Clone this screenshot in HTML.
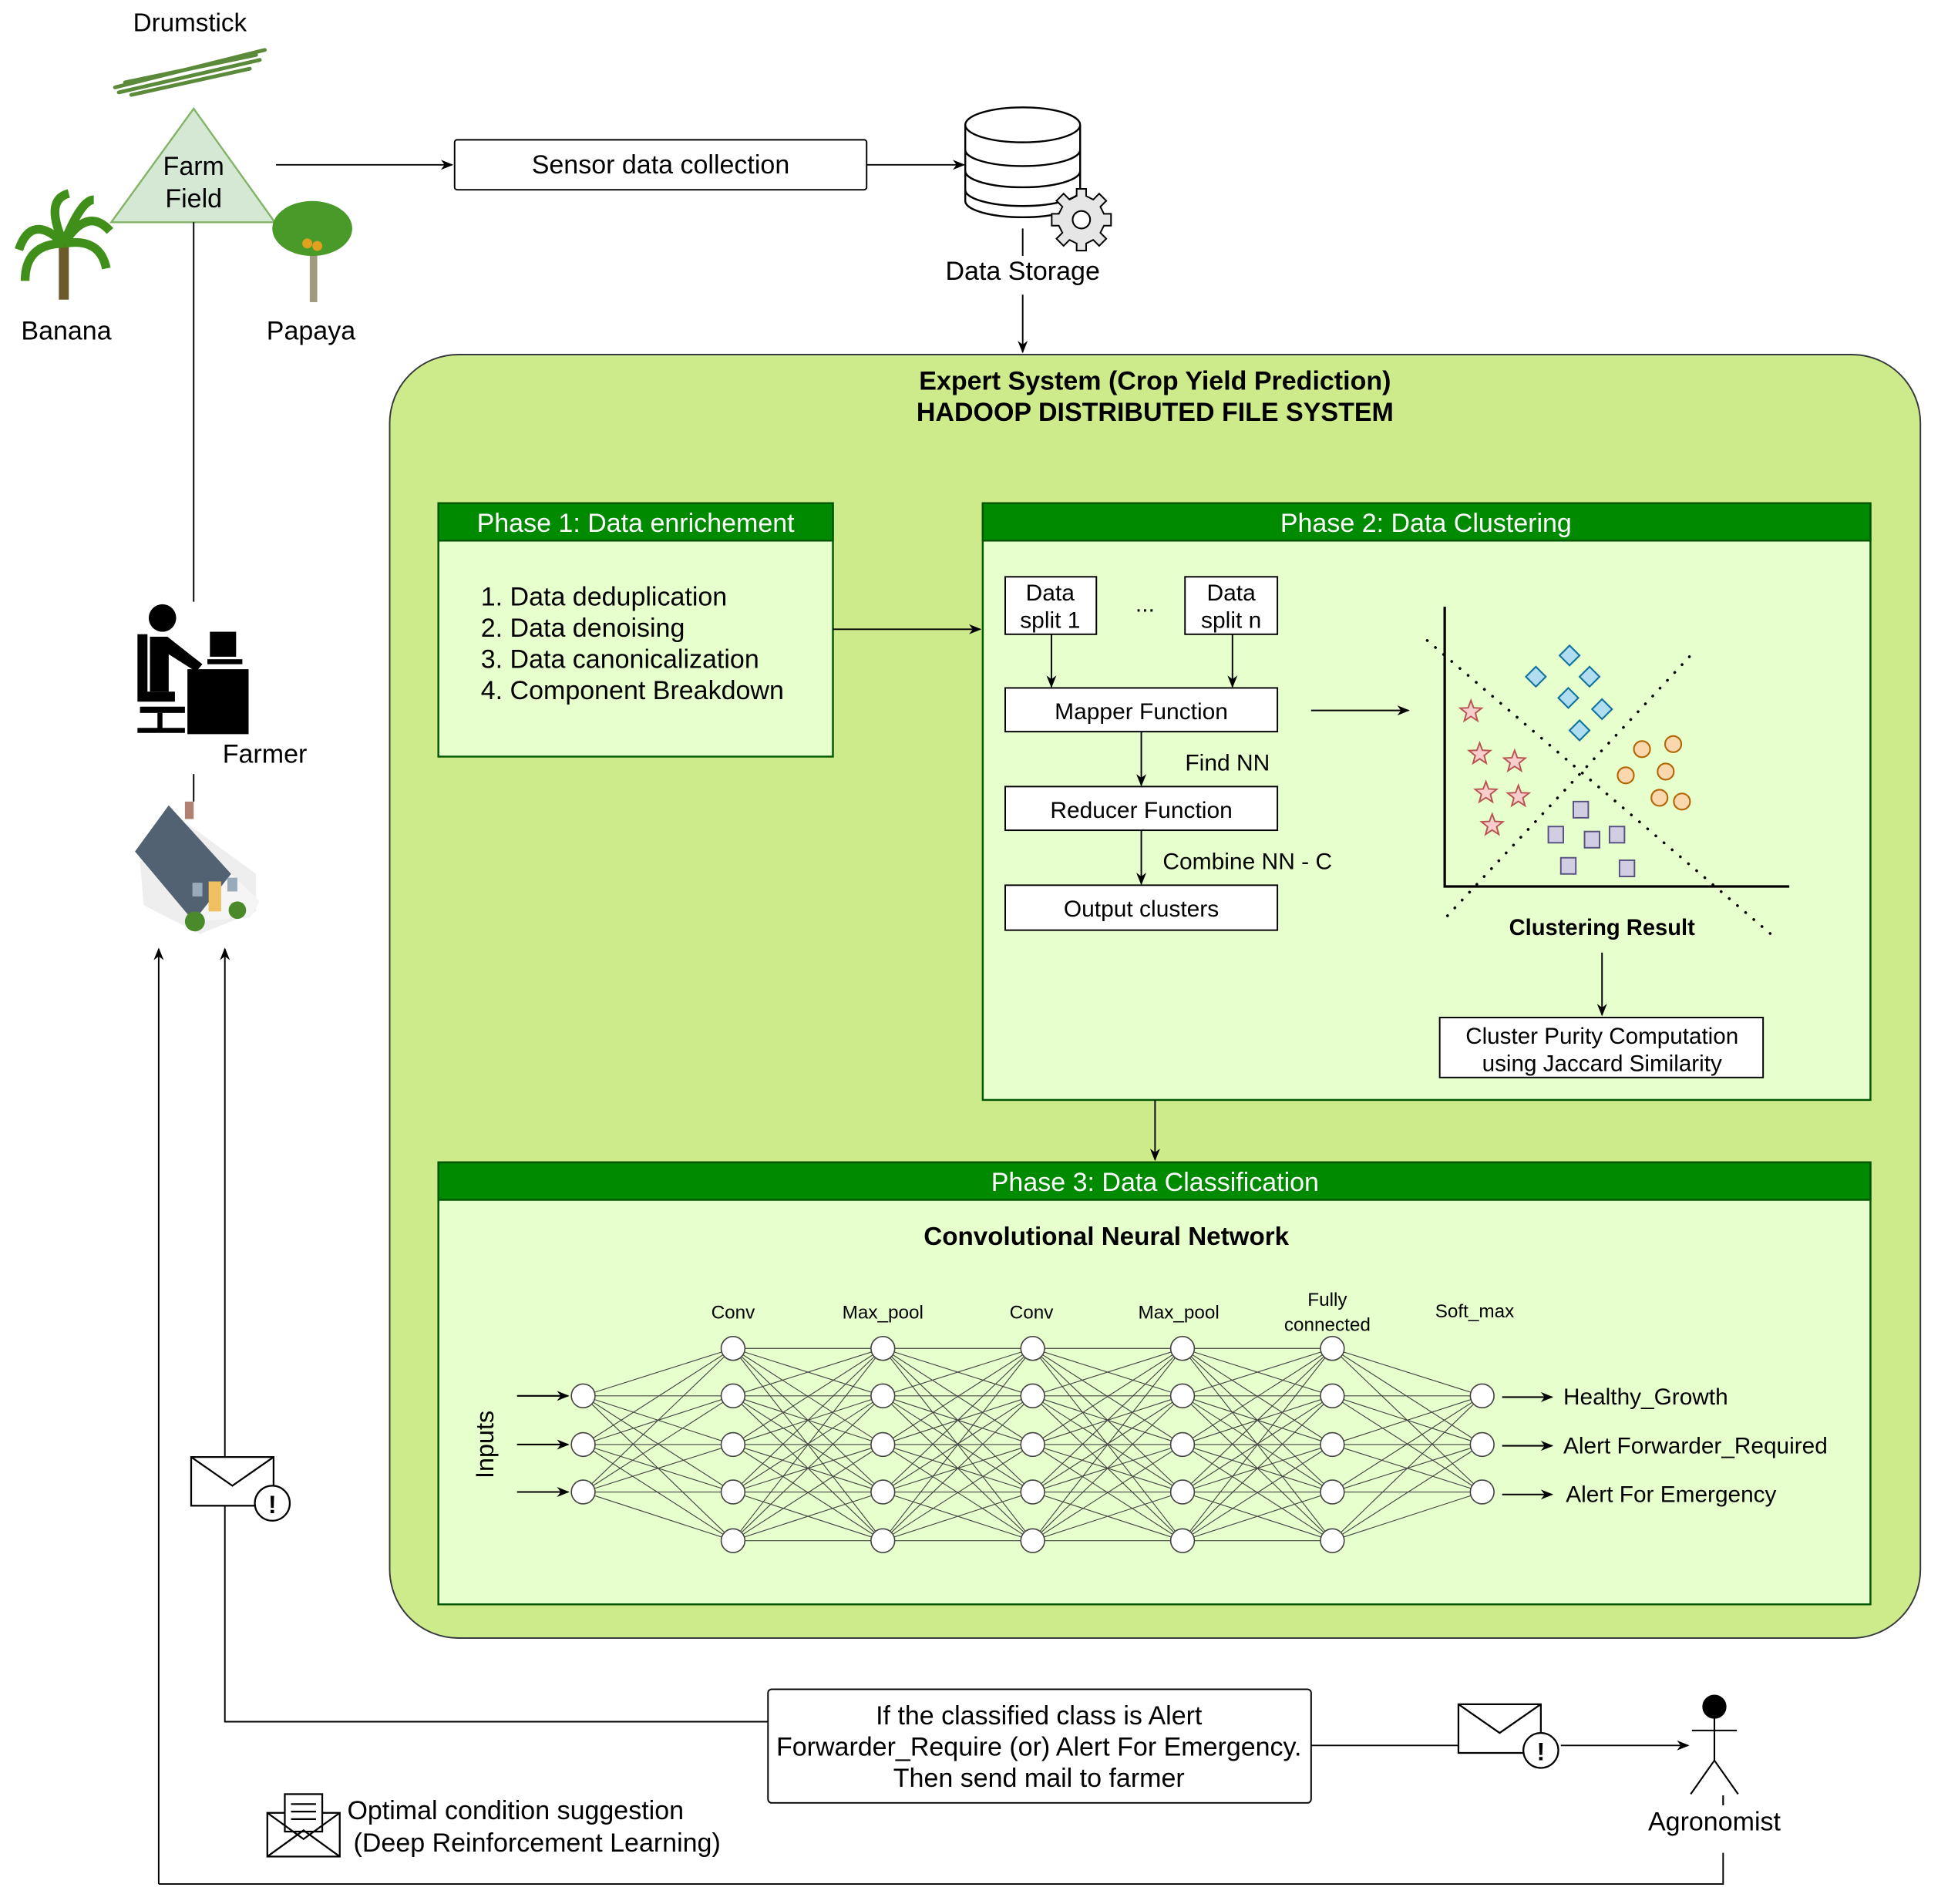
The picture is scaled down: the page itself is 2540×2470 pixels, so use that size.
<!DOCTYPE html>
<html><head><meta charset="utf-8"><style>
html,body{margin:0;padding:0;background:#fff}
svg{display:block}
text{font-family:"Liberation Sans",Arial,sans-serif;fill:#000}
</style></head><body>
<svg id="s" width="2540" height="2470" viewBox="0 0 1568 1525" xmlns="http://www.w3.org/2000/svg">
<defs>
<marker id="ar" markerWidth="10" markerHeight="10" refX="9" refY="5" orient="auto" markerUnits="userSpaceOnUse"><path d="M0,1 L10,5 L0,9 L3,5 Z" fill="#000"/></marker>
</defs>
<rect width="1568" height="1525" fill="#fff"/>

<text x="152" y="25" font-size="20.5" text-anchor="middle">Drumstick</text>
<g stroke="#5a8a3a" stroke-width="3" stroke-linecap="round">
<line x1="92" y1="70" x2="212" y2="40"/><line x1="95" y1="74" x2="208" y2="48"/><line x1="100" y1="66" x2="205" y2="44"/><line x1="105" y1="76" x2="200" y2="55"/>
</g>
<polygon points="155,87 89,178 220,178" fill="#d5e8d4" stroke="#82b366" stroke-width="1.5"/>
<text x="155" y="140" font-size="21" text-anchor="middle">Farm</text>
<text x="155" y="166" font-size="21" text-anchor="middle">Field</text>
<g>
<rect x="47" y="190" width="8" height="50" fill="#6b5a2a"/>
<path d="M51,195 Q25,170 15,200 M51,195 Q70,165 88,185 M51,195 Q35,160 55,155 M51,195 Q80,190 85,215 M51,195 Q20,195 20,225 M51,195 Q65,160 75,160" stroke="#3f8f1a" stroke-width="7" fill="none"/>
</g>
<text x="53" y="272" font-size="21" text-anchor="middle">Banana</text>
<rect x="248" y="190" width="6" height="52" fill="#a09a80"/>
<ellipse cx="250" cy="183" rx="32" ry="22" fill="#4a9a2a"/>
<circle cx="246" cy="195" r="4" fill="#e0a020"/><circle cx="254" cy="197" r="4" fill="#e0a020"/>
<text x="249" y="272" font-size="21" text-anchor="middle">Papaya</text>
<line x1="155" y1="178" x2="155" y2="482" stroke="#000" stroke-width="1.2"/>

<line x1="221" y1="132" x2="362" y2="132" stroke="#000" stroke-width="1.2" marker-end="url(#ar)"/>
<rect x="364" y="112" width="330" height="40" fill="#fff" stroke="#000" stroke-width="1.2" rx="2"/>
<text x="529" y="139" font-size="21" text-anchor="middle">Sensor data collection</text>
<line x1="694" y1="132" x2="772" y2="132" stroke="#000" stroke-width="1.2" marker-end="url(#ar)"/>
<g fill="#fff" stroke="#000" stroke-width="1.5">
<path d="M773,100 v61 a46,13 0 0 0 92,0 v-61"/>
<ellipse cx="819" cy="100" rx="46" ry="14"/>
<path d="M773,120 a46,13 0 0 0 92,0 M773,137 a46,13 0 0 0 92,0 M773,152 a46,13 0 0 0 92,0" fill="none"/>
</g>
<g transform="translate(866,176)" fill="#e6e6e6" stroke="#000" stroke-width="1.3">
<path d="M-4,-26 h8 v6 l6,3 5,-5 6,6 -5,5 3,6 h6 v10 h-6 l-3,6 5,5 -6,6 -5,-5 -6,3 v6 h-8 v-6 l-6,-3 -5,5 -6,-6 5,-5 -3,-6 h-6 v-10 h6 l3,-6 -5,-5 6,-6 5,5 6,-3 z" transform="scale(0.95)"/>
<circle cx="0" cy="0" r="7" fill="#fff"/>
</g>
<line x1="819" y1="183" x2="819" y2="205" stroke="#000" stroke-width="1.2"/>
<text x="819" y="224" font-size="21" text-anchor="middle">Data Storage</text>
<line x1="819" y1="236" x2="819" y2="282" stroke="#000" stroke-width="1.2" marker-end="url(#ar)"/>

<rect x="312" y="284" width="1226" height="1028" rx="55" fill="#cdeb8b" stroke="#36393d" stroke-width="1.2"/>
<text x="925" y="312" font-size="21" font-weight="bold" text-anchor="middle">Expert System (Crop Yield Prediction)</text>
<text x="925" y="337" font-size="21" font-weight="bold" text-anchor="middle">HADOOP DISTRIBUTED FILE SYSTEM</text>

<rect x="351" y="403" width="316" height="203" fill="#e6ffcc" stroke="#005700" stroke-width="1.5"/>
<rect x="351" y="403" width="316" height="30" fill="#008a00" stroke="#005700" stroke-width="1.5"/>
<text x="509" y="426" font-size="21" text-anchor="middle" style="fill:#fff">Phase 1: Data enrichement</text>
<g font-size="21"><text x="385" y="485">1. Data deduplication</text><text x="385" y="510">2. Data denoising</text><text x="385" y="535">3. Data canonicalization</text><text x="385" y="560">4. Component Breakdown</text></g>
<line x1="667" y1="504" x2="785" y2="504" stroke="#000" stroke-width="1.2" marker-end="url(#ar)"/>

<rect x="787" y="403" width="711" height="478" fill="#e6ffcc" stroke="#005700" stroke-width="1.5"/>
<rect x="787" y="403" width="711" height="30" fill="#008a00" stroke="#005700" stroke-width="1.5"/>
<text x="1142" y="426" font-size="21" text-anchor="middle" style="fill:#fff">Phase 2: Data Clustering</text>
<g fill="#fff" stroke="#000" stroke-width="1.2">
<rect x="805" y="462" width="73" height="46"/><rect x="949" y="462" width="74" height="46"/>
<rect x="805" y="551" width="218" height="35"/><rect x="805" y="630" width="218" height="35"/><rect x="805" y="709" width="218" height="36"/>
</g>
<g font-size="18.5" text-anchor="middle">
<text x="841" y="481">Data</text><text x="841" y="503">split 1</text>
<text x="986" y="481">Data</text><text x="986" y="503">split n</text>
<text x="917" y="490">...</text>
<text x="914" y="576">Mapper Function</text><text x="914" y="655">Reducer Function</text><text x="914" y="734">Output clusters</text>
<text x="983" y="617">Find NN</text><text x="999" y="696">Combine NN - C</text>
</g>
<g stroke="#000" stroke-width="1.2">
<line x1="842" y1="508" x2="842" y2="550" marker-end="url(#ar)"/>
<line x1="987" y1="508" x2="987" y2="550" marker-end="url(#ar)"/>
<line x1="914" y1="586" x2="914" y2="629" marker-end="url(#ar)"/>
<line x1="914" y1="665" x2="914" y2="708" marker-end="url(#ar)"/>
<line x1="1050" y1="569" x2="1128" y2="569" marker-end="url(#ar)"/>
</g>
<g stroke="#000" stroke-width="2"><line x1="1157" y1="486" x2="1157" y2="710"/><line x1="1156" y1="710" x2="1433" y2="710"/></g>
<g stroke="#000" stroke-width="2.2" stroke-dasharray="0.1 8.5" stroke-linecap="round">
<line x1="1143" y1="513" x2="1418" y2="748"/><line x1="1353" y1="526" x2="1155" y2="738"/>
</g>
<g fill="#b1ddf0" stroke="#10739e" stroke-width="1.3" id="dia"></g>
<g fill="#f8cecc" stroke="#b85450" stroke-width="1.2" id="sta"></g>
<g fill="#fad7ac" stroke="#b46504" stroke-width="1.3">
<circle cx="1315" cy="600" r="6.5"/><circle cx="1340" cy="596" r="6.5"/><circle cx="1302" cy="621" r="6.5"/><circle cx="1334" cy="618" r="6.5"/><circle cx="1329" cy="639" r="6.5"/><circle cx="1347" cy="642" r="6.5"/>
</g>
<g fill="#d0cee2" stroke="#56517e" stroke-width="1.2">
<rect x="1260" y="642" width="12" height="13"/><rect x="1240" y="662" width="12" height="13"/><rect x="1269" y="666" width="12" height="13"/><rect x="1289" y="662" width="12" height="13"/><rect x="1250" y="687" width="12" height="13"/><rect x="1297" y="689" width="12" height="13"/>
</g>
<text x="1283" y="749" font-size="18" font-weight="bold" text-anchor="middle">Clustering Result</text>
<line x1="1283" y1="763" x2="1283" y2="813" stroke="#000" stroke-width="1.2" marker-end="url(#ar)"/>
<rect x="1153" y="815" width="259" height="48" fill="#fff" stroke="#000" stroke-width="1.2"/>
<text x="1283" y="836" font-size="18.3" text-anchor="middle">Cluster Purity Computation</text>
<text x="1283" y="858" font-size="18.3" text-anchor="middle">using Jaccard Similarity</text>
<line x1="925" y1="881" x2="925" y2="929" stroke="#000" stroke-width="1.2" marker-end="url(#ar)"/>

<rect x="351" y="931" width="1147" height="354" fill="#e6ffcc" stroke="#005700" stroke-width="1.5"/>
<rect x="351" y="931" width="1147" height="30" fill="#008a00" stroke="#005700" stroke-width="1.5"/>
<text x="925" y="954" font-size="21" text-anchor="middle" style="fill:#fff">Phase 3: Data Classification</text>
<text x="886" y="997" font-size="20.5" font-weight="bold" text-anchor="middle">Convolutional Neural Network</text>
<g font-size="15" text-anchor="middle">
<text x="587" y="1056">Conv</text><text x="707" y="1056">Max_pool</text><text x="826" y="1056">Conv</text><text x="944" y="1056">Max_pool</text>
<text x="1063" y="1046">Fully</text><text x="1063" y="1066">connected</text><text x="1181" y="1055">Soft_max</text>
</g>
<text transform="translate(395,1157) rotate(-90)" font-size="20" text-anchor="middle">Inputs</text>
<g id="nnl" stroke="#444" stroke-width="0.7"></g>
<g id="nnn" fill="#fff" stroke="#444" stroke-width="1"></g>
<g stroke="#000" stroke-width="1.3">
<line x1="414" y1="1118" x2="455" y2="1118" marker-end="url(#ar)"/><line x1="414" y1="1157" x2="455" y2="1157" marker-end="url(#ar)"/><line x1="414" y1="1195" x2="455" y2="1195" marker-end="url(#ar)"/>
<line x1="1203" y1="1119" x2="1243" y2="1119" marker-end="url(#ar)"/><line x1="1203" y1="1158" x2="1243" y2="1158" marker-end="url(#ar)"/><line x1="1203" y1="1197" x2="1243" y2="1197" marker-end="url(#ar)"/>
</g>
<g font-size="18.4"><text x="1252" y="1125">Healthy_Growth</text><text x="1252" y="1164">Alert Forwarder_Required</text><text x="1254" y="1203">Alert For Emergency</text></g>

<g fill="#000">
<circle cx="130" cy="495" r="11"/>
<path d="M110,508 h8 v46 h22 v8 h-30 z"/>
<path d="M120,510 h14 l28,22 -5,6 -22,-14 v30 h-15 z"/>
<rect x="112" y="566" width="36" height="5"/><rect x="126" y="571" width="4" height="14"/><rect x="110" y="583" width="38" height="4"/>
<rect x="150" y="536" width="49" height="52"/>
<rect x="168" y="506" width="21" height="20"/><rect x="166" y="528" width="28" height="4"/>
</g>
<text x="212" y="611" font-size="21" text-anchor="middle">Farmer</text>
<line x1="155" y1="620" x2="155" y2="642" stroke="#000" stroke-width="1.2"/>
<g>
<polygon points="112,690 150,660 205,700 205,730 160,748 115,725" fill="#eeeeee"/>
<polygon points="108,682 135,645 185,700 155,738" fill="#526273"/>
<polygon points="155,738 185,700 208,722 200,735" fill="#f5f5f5"/>
<rect x="148" y="642" width="7" height="14" fill="#b08070"/>
<rect x="167" y="706" width="10" height="24" fill="#f0c060"/>
<rect x="154" y="707" width="8" height="11" fill="#9ab"/><rect x="182" y="703" width="8" height="11" fill="#9ab"/>
<circle cx="156" cy="738" r="8" fill="#4a8a2a"/><circle cx="190" cy="729" r="7" fill="#4a8a2a"/>
</g>

<g stroke="#000" stroke-width="1.2" fill="none">
<line x1="127" y1="1509" x2="127" y2="760" marker-end="url(#ar)"/>
<line x1="180" y1="1206" x2="180" y2="760" marker-end="url(#ar)"/>
<polyline points="615,1379 180,1379 180,1206"/>
<polyline points="1380,1484 1380,1509 127,1509"/>
<line x1="1050" y1="1398" x2="1168" y2="1398"/>
<line x1="1250" y1="1398" x2="1352" y2="1398" marker-end="url(#ar)"/>
</g>
<g fill="#fff" stroke="#000" stroke-width="1.4">
<rect x="153" y="1167" width="66" height="39"/>
<polyline points="153,1167 186,1190 219,1167" fill="none"/>
<circle cx="218" cy="1204" r="14"/>
</g>
<text x="218" y="1212" font-size="20" font-weight="bold" text-anchor="middle">!</text>
<g fill="#fff" stroke="#000" stroke-width="1.4">
<rect x="1168" y="1365" width="66" height="39"/>
<polyline points="1168,1365 1201,1388 1234,1365" fill="none"/>
<circle cx="1234" cy="1402" r="14"/>
</g>
<text x="1234" y="1410" font-size="20" font-weight="bold" text-anchor="middle">!</text>
<rect x="615" y="1353" width="435" height="91" rx="3" fill="#fff" stroke="#000" stroke-width="1.2"/>
<g font-size="21" text-anchor="middle"><text x="832" y="1381">If the classified class is Alert</text><text x="832" y="1406">Forwarder_Require (or) Alert For Emergency.</text><text x="832" y="1431">Then send mail to farmer</text></g>
<g stroke="#000" stroke-width="1.3" fill="none">
<circle cx="1373" cy="1367" r="9" fill="#000"/>
<line x1="1373" y1="1376" x2="1373" y2="1410"/><line x1="1355" y1="1386" x2="1391" y2="1386"/>
<line x1="1373" y1="1410" x2="1354" y2="1437"/><line x1="1373" y1="1410" x2="1392" y2="1437"/>
<line x1="1380" y1="1438" x2="1380" y2="1446"/>
</g>
<text x="1373" y="1466" font-size="21" text-anchor="middle">Agronomist</text>
<g fill="#fff" stroke="#000" stroke-width="1.4">
<rect x="214" y="1452" width="58" height="35"/>
<rect x="228" y="1437" width="30" height="30"/>
<polyline points="214,1452 243,1473 272,1452" fill="none"/>
<polyline points="214,1487 243,1466 272,1487" fill="none"/>
<line x1="233" y1="1445" x2="253" y2="1445"/><line x1="233" y1="1451" x2="253" y2="1451"/><line x1="233" y1="1457" x2="253" y2="1457"/>
</g>
<text x="278" y="1457" font-size="21">Optimal condition suggestion</text>
<text x="283" y="1483" font-size="21">(Deep Reinforcement Learning)</text>
</svg>
<script>
(function(){
var NS="http://www.w3.org/2000/svg";
function el(p,t,a){var e=document.createElementNS(NS,t);for(var k in a)e.setAttribute(k,a[k]);document.getElementById(p).appendChild(e);}
var xs=[467,587,707,827,947,1067,1187];
var five=[1080,1118,1157,1195,1234],three=[1118,1157,1195];
var L=xs.map(function(x,i){return (i==0||i==6)?three:five;});
for(var i=0;i<6;i++){L[i].forEach(function(a){L[i+1].forEach(function(b){el("nnl","line",{x1:xs[i],y1:a,x2:xs[i+1],y2:b});});});}
L.forEach(function(ys,i){ys.forEach(function(y){el("nnn","circle",{cx:xs[i],cy:y,r:9.5});});});
[[1257,525],[1230,542],[1273,542],[1256,559],[1283,568],[1265,585]].forEach(function(p){var x=p[0],y=p[1];el("dia","polygon",{points:(x)+","+(y-8)+" "+(x+8)+","+y+" "+x+","+(y+8)+" "+(x-8)+","+y});});
[[1178,570],[1185,604],[1213,610],[1190,635],[1216,638],[1195,661]].forEach(function(p){var pts=[];for(var k=0;k<10;k++){var r=k%2?3.8:9,a=-Math.PI/2+k*Math.PI/5;pts.push((p[0]+r*Math.cos(a)).toFixed(1)+","+(p[1]+r*Math.sin(a)).toFixed(1));}el("sta","polygon",{points:pts.join(" ")});});
})();
</script>
</body></html>
